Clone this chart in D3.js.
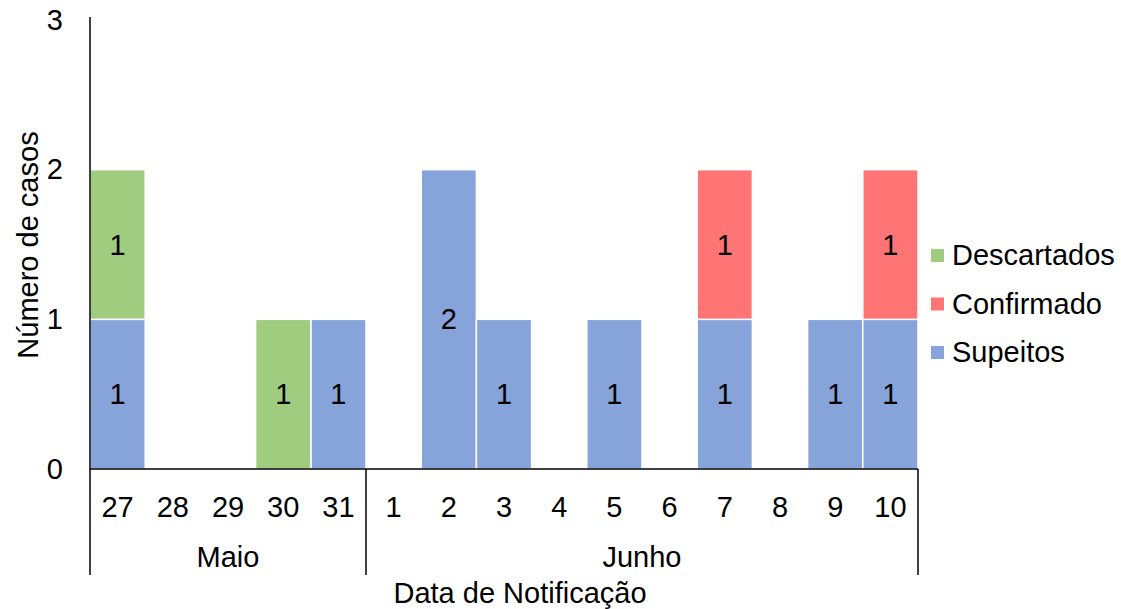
<!DOCTYPE html>
<html><head><meta charset="utf-8">
<script src="https://cdn.jsdelivr.net/npm/d3@7/dist/d3.min.js"></script>
<style>body{margin:0;background:#fff}svg{display:block;font-family:"Liberation Sans",Arial,sans-serif}</style>
</head><body>
<svg id="c" width="1121" height="609"></svg>
<script>
const days = ["27","28","29","30","31","1","2","3","4","5","6","7","8","9","10"];
const months = [{name:"Maio", from:0, to:5},{name:"Junho", from:5, to:15}];
const supeitos    = [1,0,0,0,1,0,2,1,0,1,0,1,0,1,1];
const confirmado  = [0,0,0,0,0,0,0,0,0,0,0,1,0,0,1];
const descartados = [1,0,0,1,0,0,0,0,0,0,0,0,0,0,0];
const yTicks = [0,1,2,3];
const seriesNames = ["Supeitos","Confirmado","Descartados"];
const seriesColors = {"Supeitos":"#86A4D9","Confirmado":"#FF7575","Descartados":"#A0CC80"};

const FS = 29;
const svg = d3.select("#c");
const pL = 90, pR = 918, pT = 20, pB = 469;
const x = d3.scaleBand().domain(days.map((d,i)=>i)).range([pL,pR]).padding(0);
const y = d3.scaleLinear().domain([0,3]).range([pB,pT]);

const rows = days.map((d,i)=>({i, Supeitos:supeitos[i], Confirmado:confirmado[i], Descartados:descartados[i]}));
const stack = d3.stack().keys(seriesNames)(rows);

const g = svg.append("g");
stack.forEach(s=>{
  g.selectAll(null).data(s.filter(d=>d[1]-d[0]>0)).enter().append("rect")
    .attr("x",d=>x(d.data.i)).attr("width",x.bandwidth())
    .attr("y",d=>y(d[1])).attr("height",d=>y(d[0])-y(d[1]))
    .attr("fill",seriesColors[s.key]).attr("stroke","#fff").attr("stroke-width",1.5);
  g.selectAll(null).data(s.filter(d=>d[1]-d[0]>0)).enter().append("text")
    .attr("x",d=>x(d.data.i)+x.bandwidth()/2).attr("y",d=>y((d[0]+d[1])/2))
    .attr("dy","0.35em").attr("text-anchor","middle").attr("font-size",FS).attr("fill","#000")
    .text(d=>d[1]-d[0]);
});

// y axis
const ya = svg.append("g").attr("transform",`translate(${pL},0)`)
  .call(d3.axisLeft(y).tickValues(yTicks).tickSize(0).tickPadding(27).tickFormat(d3.format("d")));
ya.select(".domain").remove();
ya.selectAll("text").attr("font-size",FS).attr("fill","#000").attr("font-family","Liberation Sans, Arial, sans-serif");
svg.append("line").attr("x1",pL).attr("x2",pL).attr("y1",pT-3).attr("y2",575).attr("stroke","#000").attr("stroke-width",1.5);

// x axis
const xa = svg.append("g").attr("transform",`translate(0,${pB})`)
  .call(d3.axisBottom(x).tickSize(0).tickPadding(0).tickFormat(i=>days[i]));
xa.select(".domain").remove();
xa.selectAll("text").attr("y",38).attr("dy","0.35em").attr("font-size",FS).attr("fill","#000").attr("font-family","Liberation Sans, Arial, sans-serif");
svg.append("line").attr("x1",pL).attr("x2",pR).attr("y1",pB).attr("y2",pB).attr("stroke","#000").attr("stroke-width",1.5);

months.forEach(m=>{
  const x0 = x(m.from), x1 = m.to>=days.length ? pR : x(m.to);
  svg.append("line").attr("x1",x1).attr("x2",x1).attr("y1",pB).attr("y2",575).attr("stroke","#000").attr("stroke-width",1.5);
  svg.append("text").attr("x",(x0+x1)/2).attr("y",557).attr("dy","0.35em").attr("text-anchor","middle")
    .attr("font-size",FS).attr("fill","#000").text(m.name);
});

svg.append("text").attr("x",520).attr("y",593).attr("dy","0.35em").attr("text-anchor","middle")
  .attr("font-size",FS).attr("fill","#000").text("Data de Notificação");
svg.append("text").attr("transform","translate(28,245) rotate(-90)").attr("dy","0.35em").attr("text-anchor","middle")
  .attr("font-size",FS).attr("fill","#000").text("Número de casos");

// legend
const legendOrder = ["Descartados","Confirmado","Supeitos"];
const lg = svg.append("g");
legendOrder.forEach((k,j)=>{
  const ly = 255 + j*48.5;
  lg.append("rect").attr("x",931).attr("y",ly-6).attr("width",13).attr("height",13).attr("fill",seriesColors[k]);
  lg.append("text").attr("x",952).attr("y",ly).attr("dy","0.35em").attr("font-size",FS).attr("fill","#000").text(k);
});
</script>
</body></html>
